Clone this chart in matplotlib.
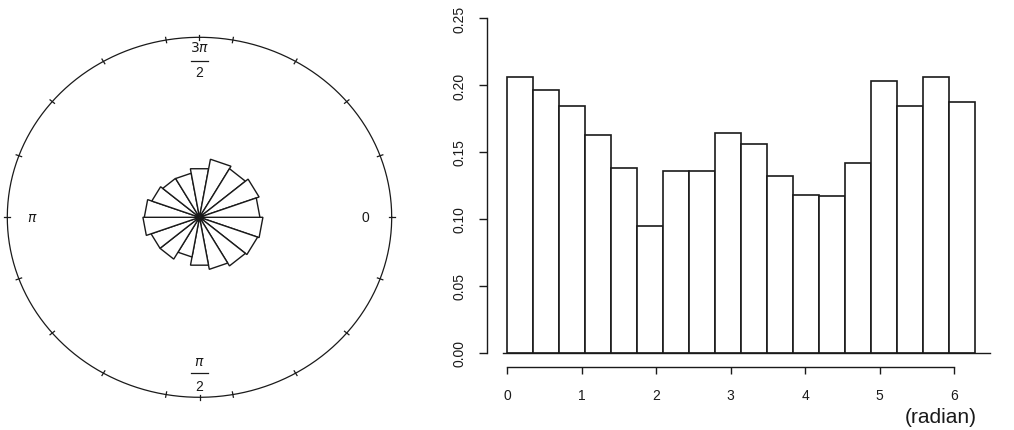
import numpy as np
import matplotlib
matplotlib.use('Agg')
import matplotlib.pyplot as plt

# densities of the 18 bins (width 2*pi/18)
density = [0.206, 0.196, 0.184, 0.163, 0.138, 0.095, 0.136, 0.136, 0.164,
           0.156, 0.132, 0.118, 0.117, 0.142, 0.203, 0.184, 0.206, 0.187]
x_ticks = [0, 1, 2, 3, 4, 5, 6]
y_ticks = [0.00, 0.05, 0.10, 0.15, 0.20, 0.25]
circle_labels = ['0', r'$\pi$']

plt.rcParams['font.family'] = ['Liberation Sans', 'DejaVu Sans']
W, H = 1014, 431
fig = plt.figure(figsize=(W / 100, H / 100), dpi=100)
ink = '#1a1a1a'

nbins = len(density)
bw = 2 * np.pi / nbins
edges = np.arange(nbins + 1) * bw

# ---- left: rose diagram (clockwise, 0 at right) ----
ax1 = fig.add_axes([7.3 / W, (H - 398.3) / H, 384.4 / W, 360 / H])
ax1.set_xlim(-1, 1)
ax1.set_ylim(-1, 1)
ax1.axis('off')

t = np.linspace(0, 2 * np.pi, 500)
ax1.plot(np.cos(t), np.sin(t), color=ink, lw=0.9, clip_on=False)
tick_ang = np.concatenate([np.arange(nbins) * bw, [np.pi / 2, 3 * np.pi / 2]])
for a in tick_ang:
    ax1.plot([0.985 * np.cos(a), 1.015 * np.cos(a)],
             [-0.985 * np.sin(a), -1.015 * np.sin(a)], color=ink, lw=0.9,
             clip_on=False)

c = 0.727  # petal radius = c * sqrt(density), circle radius = 1
for i, d in enumerate(density):
    r = c * np.sqrt(d)
    a1, a2 = edges[i], edges[i + 1]
    px = [0, r * np.cos(a1), r * np.cos(a2), 0]
    py = [0, -r * np.sin(a1), -r * np.sin(a2), 0]
    ax1.fill(px, py, facecolor='white', edgecolor=ink, lw=1.0)

ax1.text(0.865, 0, circle_labels[0], ha='center', va='center', fontsize=10, color=ink)
ax1.text(-0.87, 0, circle_labels[1], ha='center', va='center', fontsize=10, color=ink)
# 3pi/2 on top, pi/2 at the bottom, drawn as stacked fractions
ax1.text(0, 0.946, r'$3\pi$', ha='center', va='center', fontsize=10, color=ink)
ax1.plot([-0.045, 0.045], [0.866, 0.866], color=ink, lw=0.9)
ax1.text(0, 0.805, '2', ha='center', va='center', fontsize=10, color=ink)
ax1.text(0, -0.798, r'$\pi$', ha='center', va='center', fontsize=10, color=ink)
ax1.plot([-0.045, 0.045], [-0.865, -0.865], color=ink, lw=0.9)
ax1.text(0, -0.937, '2', ha='center', va='center', fontsize=10, color=ink)

# ---- right: histogram ----
x0, sx = 507.0, 74.5      # pixel of x=0, pixels per radian
y0, sy = 354.0, 1340.0    # pixel of y=0, pixels per density unit
L, R, B, T = 480, 1000, 378, 8
ax2 = fig.add_axes([L / W, (H - B) / H, (R - L) / W, (B - T) / H])
ax2.set_xlim((L - x0) / sx, (R - x0) / sx)
ax2.set_ylim((y0 - B) / sy, (y0 - T) / sy)

ax2.bar(edges[:-1], density, width=bw, align='edge', facecolor='white',
        edgecolor=ink, lw=1.2, zorder=2)
ax2.axhline(0, xmin=(503 - L) / (R - L), xmax=(990 - L) / (R - L), color=ink, lw=1.0)

for s in ['top', 'right']:
    ax2.spines[s].set_visible(False)
ax2.spines['left'].set_position(('data', (487 - x0) / sx))
ax2.spines['left'].set_bounds(y_ticks[0], y_ticks[-1])
ax2.spines['bottom'].set_position(('data', (y0 - 368) / sy))
ax2.spines['bottom'].set_bounds(x_ticks[0], x_ticks[-1])
for s in ['left', 'bottom']:
    ax2.spines[s].set_color(ink)
    ax2.spines[s].set_linewidth(1.0)

ax2.set_xticks(x_ticks)
ax2.set_xticklabels([str(v) for v in x_ticks])
ax2.set_yticks(y_ticks)
ax2.set_yticklabels(['%.2f' % v for v in y_ticks], rotation=90, va='center')
ax2.tick_params(axis='x', length=5, width=1.0, color=ink, labelsize=10, pad=10, labelcolor=ink)
ax2.tick_params(axis='y', length=6, width=1.0, color=ink, labelsize=10, pad=9, labelcolor=ink)
ax2.patch.set_alpha(0)

ax2.text((941 - x0) / sx, (y0 - 418) / sy, '(radian)', ha='center', va='center',
         fontsize=15, color=ink, clip_on=False)

fig.savefig('out.png', dpi=100)
